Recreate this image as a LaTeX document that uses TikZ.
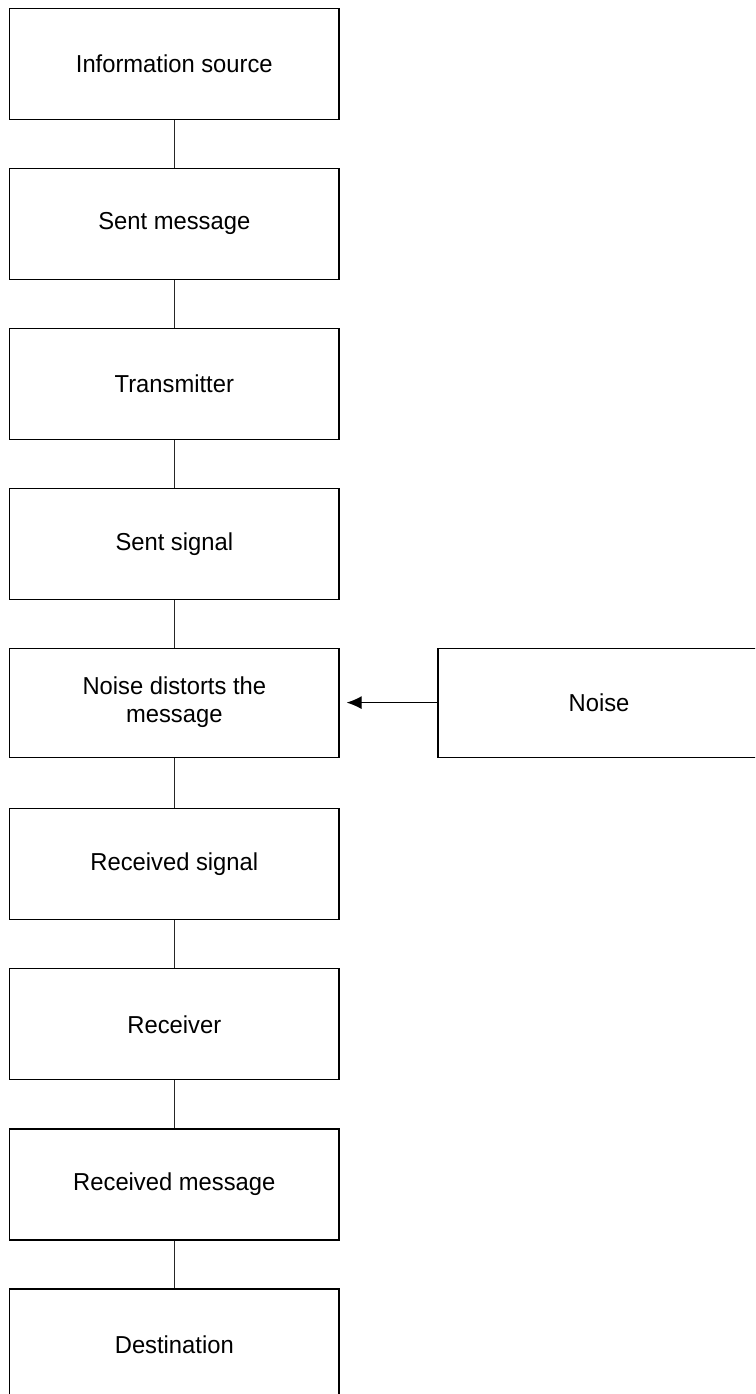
\documentclass[tikz,border=0pt]{standalone}
\usepackage{fontspec}
\setmainfont[FakeStretch=0.97]{Liberation Sans}
\usetikzlibrary{arrows.meta}
\tikzset{
  stage/.style={draw=black, line width=1.2pt, minimum width=329.5pt, minimum height=111pt,
    inner sep=0pt, align=center, font=\fontsize{24.5}{28}\selectfont, text=black},
  link/.style={draw=black!85, line width=1.1pt},
  push/.style={draw=black, line width=1.1pt, -{Latex[length=15pt,width=13pt]}}
}
\begin{document}
\begin{tikzpicture}[x=1pt,y=-1pt]
\useasboundingbox (0,0) rectangle (755,1394);
\clip (0,0) rectangle (755,1394);
\node[stage] (s1) at (174.3,63.7) {Information source};
\node[stage] (s2) at (174.3,223.8) {Sent message};
\node[stage] (s3) at (174.3,383.9) {Transmitter};
\node[stage] (s4) at (174.3,544.0) {Sent signal};
\node[stage, minimum height=109pt] (s5) at (174.3,702.6) {Noise distorts the\\message};
\node[stage] (s6) at (174.3,864.2) {Received signal};
\node[stage] (s7) at (174.3,1024.3) {Receiver};
\node[stage] (s8) at (174.3,1184.4) {Received message};
\node[stage] (s9) at (174.3,1344.5) {Destination};
\node[stage, minimum width=322pt, minimum height=109pt] (noise) at (599,702.6) {Noise};
\draw[link] (s1) -- (s2);
\draw[link] (s2) -- (s3);
\draw[link] (s3) -- (s4);
\draw[link] (s4) -- (s5);
\draw[link] (s5) -- (s6);
\draw[link] (s6) -- (s7);
\draw[link] (s7) -- (s8);
\draw[link] (s8) -- (s9);
\draw[push] (noise.west) -- ([xshift=7pt]s5.east);
\end{tikzpicture}
\end{document}
